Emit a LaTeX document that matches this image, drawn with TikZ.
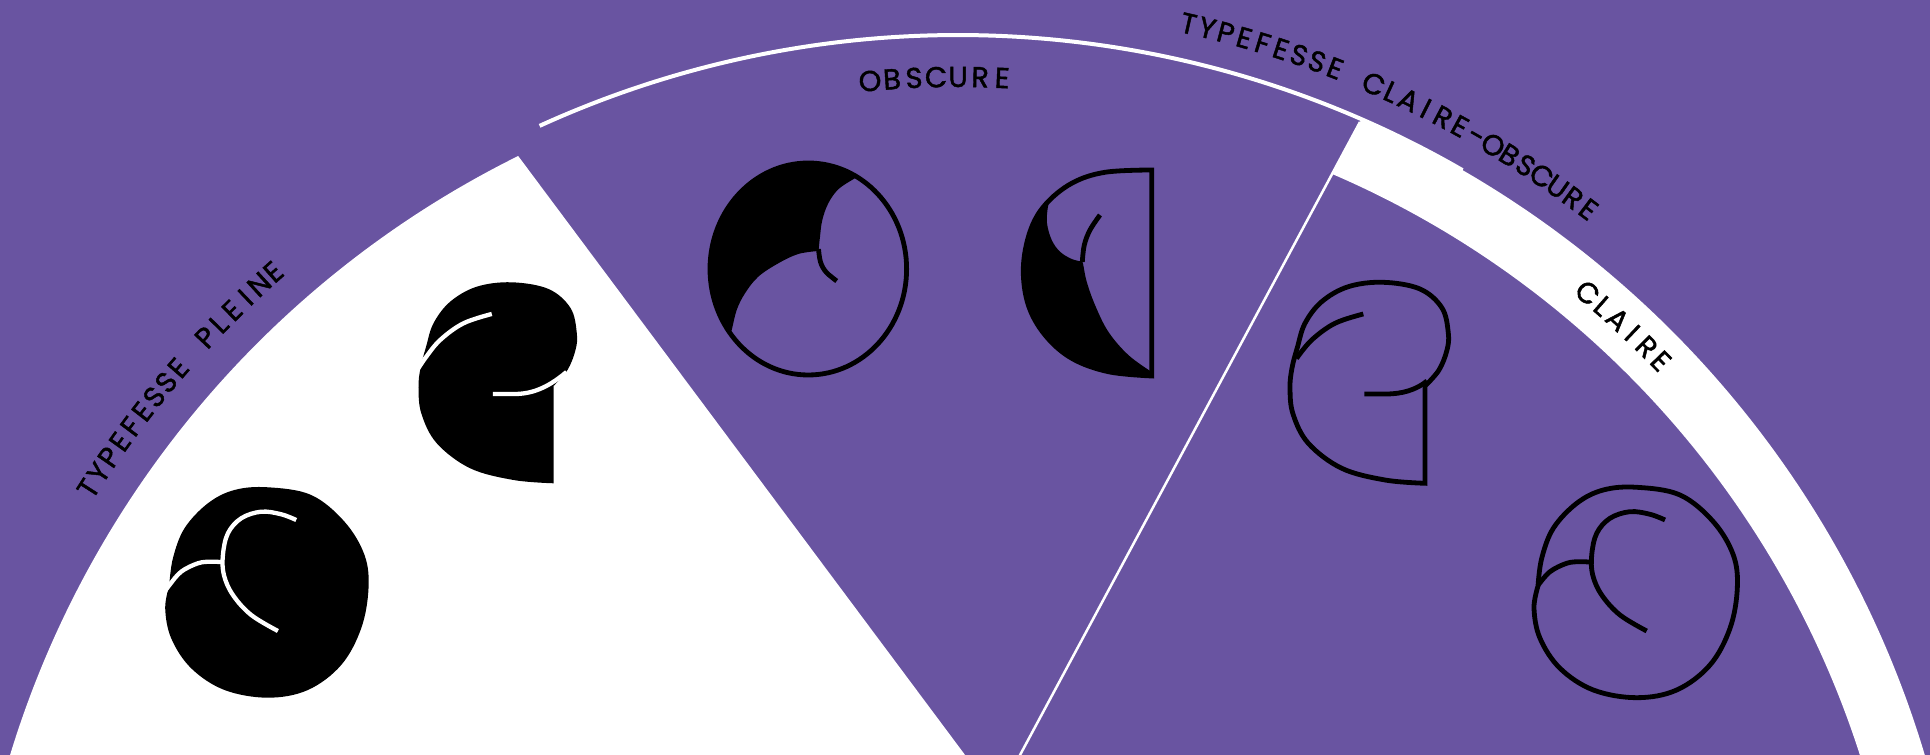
\documentclass[tikz,border=0pt]{standalone}
\usepackage{fontspec}
\usetikzlibrary{calc}
\newfontfamily\lblfam[FakeBold=1.5]{Poppins}
\newcommand\lblfont{\lblfam\fontsize{8.2pt}{9pt}\selectfont}
\newcommand\lblspace{\hspace*{0.12em}}
\definecolor{bg}{RGB}{105,84,161}
\tikzset{
  glyphline/.style={draw=black, line width=0.048cm},
  cutline/.style={draw=white, line width=0.043cm},
  sepline/.style={draw=white, line width=0.025cm},
  thinarc/.style={draw=white, line width=0.04cm},
  lbl/.style={inner sep=0pt, outer sep=0pt, anchor=base, font=\lblfont, text=black},
}
% "e" glyph (coordinates of the outlined one, y downwards)
\newcommand\eOutline{(1425,483.3) -- (1425,386) -- plot[smooth,tension=0.6] coordinates {(1425,386) (1439,370) (1447,350) (1448.3,333) (1442,308) (1420,289) (1383,282.3) (1348.3,286.7) (1321.7,301.7) (1305,323.3) (1297.5,347) (1292,368) (1290,388) (1293,414) (1308.3,443.3) (1341.7,468.3) (1385,480) (1425,483.3)} -- cycle}
\newcommand\eInner{plot[smooth,tension=0.6] coordinates {(1363.3,314) (1335,323.3) (1311.7,340) (1296.5,358.5)}}
\newcommand\eInnerX{plot[smooth,tension=0.6] coordinates {(1363.3,314) (1335,323.3) (1311.7,340) (1296.5,358.5) (1287,373)}}
\newcommand\eBar{(1364.3,394) -- (1386,394) .. controls (1402,394) and (1416,390) .. (1427,381)}
\newcommand\eBarX{(1364.3,394) -- (1386,394) .. controls (1402,394) and (1418,389) .. (1438,372)}
% round glyph
\newcommand\oOutline{plot[smooth,tension=0.6] coordinates {(1538,586) (1541.7,558.3) (1553.3,528.3) (1576.7,503.3) (1603.3,490) (1636.7,487.3) (1680,495) (1713.3,521.7) (1733.3,555) (1737.3,588.3) (1730,628.3) (1710,665) (1676.7,690) (1636.7,697.7) (1593.3,690) (1560,668.3) (1540,638.3) (1534,608.3) (1538,586)} -- cycle}
\newcommand\oBump{plot[smooth,tension=0.6] coordinates {(1538.3,585) (1550,571.7) (1566.7,563.3) (1580,561.7) (1592,562.3)}}
\newcommand\oBumpX{plot[smooth,tension=0.6] coordinates {(1529,598) (1538.3,585) (1550,571.7) (1566.7,563.3) (1580,561.7) (1592,562.3)}}
\newcommand\oC{plot[smooth,tension=0.6] coordinates {(1665,520) (1650,514.3) (1630,511.7) (1610,518.3) (1596.7,533.3) (1591.7,555) (1592.7,575) (1601.7,595) (1620,615) (1646.7,631)}}
% letters set one by one along an arc round (C), spread to a given length
\newdimen\lblacc \newdimen\lblsum \newdimen\lblw \newcount\lbln
\newcommand\arclabel[5]{% #1 name prefix, #2 baseline radius, #3 middle angle, #4 length (px), #5 letters
  \global\lblsum=0pt \global\lbln=0
  \foreach \lblch in {#5}{\setbox0=\hbox{\lblfont\lblch}\global\advance\lblsum by \wd0\relax \global\advance\lbln by 1\relax}%
  \pgfmathsetmacro\lbltrack{(#4*0.284528 - \lblsum)/(\lbln-1)}%
  \pgfmathsetmacro\lblrad{#2*0.284528}%
  \global\lblacc=0pt
  \foreach \lblch [count=\lblk] in {#5}{%
    \setbox0=\hbox{\lblfont\lblch}\lblw=\wd0\relax
    \pgfmathsetmacro\lblang{#3 + (#4*0.284528/2 - \lblacc - 0.5*\lblw)/\lblrad*180/pi}%
    \node[lbl, rotate=\lblang-90] (#1\lblk) at ($(C)+(\lblang:#2)$) {\lblch};
    \global\advance\lblacc by \lblw\relax
    \global\advance\lblacc by \lbltrack pt\relax
  }%
}
\begin{document}
\begin{tikzpicture}[x=0.01cm,y=0.01cm]
\useasboundingbox (0,0) rectangle (1930,755);
\clip (0,0) rectangle (1930,755);
\fill[bg] (0,0) rectangle (1930,755);
\coordinate (C) at (958,-289);
% left wedge (typefesse pleine)
\fill[white] ($(C)+(116.35:991)$) arc[start angle=116.35, end angle=172, radius=991] -- (972.5,-10) -- cycle;
% thin outer arc
\draw[thinarc] ($(C)+(114.5:1009)$) arc[start angle=114.5, end angle=60, radius=1009];
% white band (claire)
\begin{scope}
\clip (1020,0) -- (1425.5,755) -- (1930,755) -- (1930,0) -- cycle;
\fill[white] ($(C)+(75:1009)$) arc[start angle=75, end angle=5, radius=1009] -- ($(C)+(5:947)$) arc[start angle=5, end angle=75, radius=947] -- cycle;
\end{scope}
% separator
\coordinate (sepTop) at (1360,633);
\coordinate (sepBot) at (1019.5,-1);
\draw[sepline] (sepTop) -- (sepBot);
% glyphs, y downwards
\begin{scope}[shift={(0,755)}, yscale=-1]
  % claire: outlined e
  \draw[glyphline] \eOutline;
  \draw[glyphline] \eInner;
  \draw[glyphline] \eBar;
  % claire: outlined round glyph
  \draw[glyphline] \oOutline;
  \draw[glyphline] \oBump;
  \draw[glyphline] \oC;
  % pleine: filled e
  \begin{scope}[xshift=-8.71cm]
    \fill[black] \eOutline;
    \draw[cutline] \eInnerX;
    \draw[cutline] \eBarX;
  \end{scope}
  % pleine: filled round glyph
  \begin{scope}[xshift=-13.68cm]
    \fill[black] \oOutline;
    \draw[cutline] \oBumpX;
    \draw[cutline] \oC;
  \end{scope}
  % obscure: round glyph
  \begin{scope}
    \clip (808.3,269) ellipse [x radius=98.3, y radius=106];
    \fill[black] (864,171) -- plot[smooth,tension=0.6] coordinates {(853.3,179.3) (838.3,189.3) (828.3,203.3) (822.3,220) (820,236.7) (818.5,251)} -- plot[smooth,tension=0.6] coordinates {(818.5,251) (798.3,254) (778.3,263.3) (758.3,276.7) (745,293.3) (736.7,310) (731.7,330) (727,345)} -- (690,360) -- (690,150) -- (870,150) -- cycle;
  \end{scope}
  \draw[glyphline] (808.3,269) ellipse [x radius=98.3, y radius=106];
  \draw[glyphline] plot[smooth,tension=0.6] coordinates {(818.5,249) (820.5,262) (826,272) (836.7,281)};
  % obscure: e glyph
  \begin{scope}
    \clip (1151.7,170) -- (1151.7,376) -- plot[smooth,tension=0.6] coordinates {(1151.7,376) (1108.3,371.7) (1071.7,358.3) (1045,335) (1028.3,305) (1023.3,268.3) (1030,231.7) (1045,205) (1071.7,183.3) (1105,172.3) (1151.7,170)} -- cycle;
    \fill[black] (1165,385) -- (1151.7,372) -- plot[smooth,tension=0.6] coordinates {(1151.7,372) (1128.3,355) (1108.3,331.7) (1095,305) (1086.7,281.7) (1083.3,265) (1082.3,261.7)} -- plot[smooth,tension=0.6] coordinates {(1082.3,261.7) (1071.7,259) (1060,251.7) (1051.7,240) (1047,223.3) (1047.7,208.3) (1050,200) (1054,190)} -- (1060,160) -- (1000,160) -- (1000,390) -- cycle;
  \end{scope}
  \draw[glyphline] (1151.7,170) -- (1151.7,376) -- plot[smooth,tension=0.6] coordinates {(1151.7,376) (1108.3,371.7) (1071.7,358.3) (1045,335) (1028.3,305) (1023.3,268.3) (1030,231.7) (1045,205) (1071.7,183.3) (1105,172.3) (1151.7,170)} -- cycle;
  \draw[glyphline] plot[smooth,tension=0.6] coordinates {(1082.3,262) (1084.3,245) (1090,230) (1100,215)};
\end{scope}
% labels along arcs
\arclabel{pl}{1022}{139.5}{283}{T,Y,P,E,F,E,S,S,E,\lblspace,P,L,E,I,N,E}
\arclabel{co}{1036}{65.1}{440}{T,Y,P,E,F,E,S,S,E,\lblspace,C,L,A,I,R,E,-,O,B,S,C,U,R,E}
\arclabel{ob}{957}{91.3}{131}{O,B,S,C,U,R,E}
\arclabel{cl}{970}{47.1}{99}{C,L,A,I,R,E}
\end{tikzpicture}
\end{document}
